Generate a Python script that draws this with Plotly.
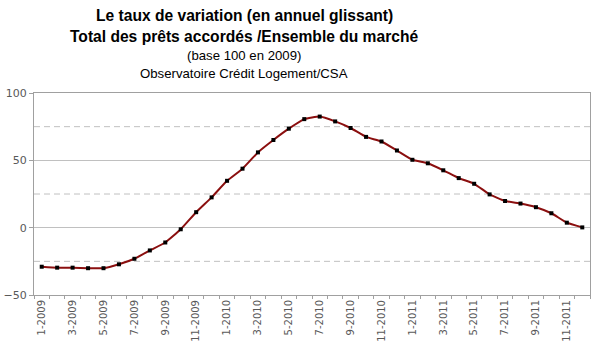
import plotly.graph_objects as go

months = [f"{m}-{y}" for y in (2009, 2010, 2011) for m in range(1, 13)]
values = [-29.0, -29.7, -29.7, -30.1, -30.1, -27.2, -23.1, -16.9, -11.0, -1.2,
          11.5, 22.5, 34.8, 43.8, 55.9, 65.1, 73.5, 80.6, 82.5, 78.9,
          74.0, 67.4, 64.0, 57.3, 50.4, 47.8, 42.6, 36.8, 32.6, 24.7,
          19.8, 17.9, 15.2, 10.7, 3.7, 0.2]
label_idx = list(range(0, len(months), 2))
label_text = [months[i] for i in label_idx]
major_y = [-50, 0, 50, 100]
dashed_y = [-25, 25, 75]

xs = list(range(len(months)))

fig = go.Figure()
fig.add_trace(go.Scatter(
    x=xs, y=values, mode="lines+markers",
    line=dict(color="#8B0F0F", width=2, shape="spline", smoothing=0.4),
    marker=dict(symbol="square", size=4, color="#000000"),
    showlegend=False, hoverinfo="skip"))

for v in dashed_y:
    fig.add_hline(y=v, line=dict(color="#C0C0C0", width=1, dash="6px,4px"), layer="below")

axis_font = dict(family="DejaVu Sans", size=10, color="#595959")
fig.update_layout(
    width=600, height=345,
    margin=dict(l=33.5, r=10, t=92.7, b=50),
    paper_bgcolor="white", plot_bgcolor="white",
    xaxis=dict(range=[-0.5, len(months) - 0.5], tickmode="array",
               tickvals=label_idx, ticktext=label_text, tickangle=-90,
               ticks="", showgrid=False, zeroline=False, automargin=False,
               showline=True, linecolor="#A0A0A0", linewidth=1, mirror=True,
               tickfont=axis_font,
               minor=dict(tick0=-0.5, dtick=1, ticks="outside", ticklen=3,
                          tickcolor="#A0A0A0", showgrid=False)),
    yaxis=dict(range=[-50, 100], tickmode="array", tickvals=major_y,
               ticks="outside", ticklen=4, tickcolor="#A0A0A0", automargin=False,
               showgrid=True, gridcolor="#C0C0C0", gridwidth=1, zeroline=False,
               showline=True, linecolor="#A0A0A0", linewidth=1, mirror=True,
               tickfont=dict(family="DejaVu Sans", size=11, color="#595959")),
)

titles = [
    ("<b>Le taux de variation (en annuel glissant)</b>", 15.6, 1.384),
    ("<b>Total des prêts accordés /Ensemble du marché</b>", 15.6, 1.280),
    ("(base 100 en 2009)", 13.2, 1.186),
    ("Observatoire Crédit Logement/CSA", 13.2, 1.097),
]
for text, size, yy in titles:
    fig.add_annotation(text=text, xref="paper", yref="paper",
                       x=(244 - 33.5) / 556.5, y=yy, xanchor="center", yanchor="middle",
                       showarrow=False,
                       font=dict(family="Liberation Sans", size=size, color="#000000"))

fig.write_html("out.html")
